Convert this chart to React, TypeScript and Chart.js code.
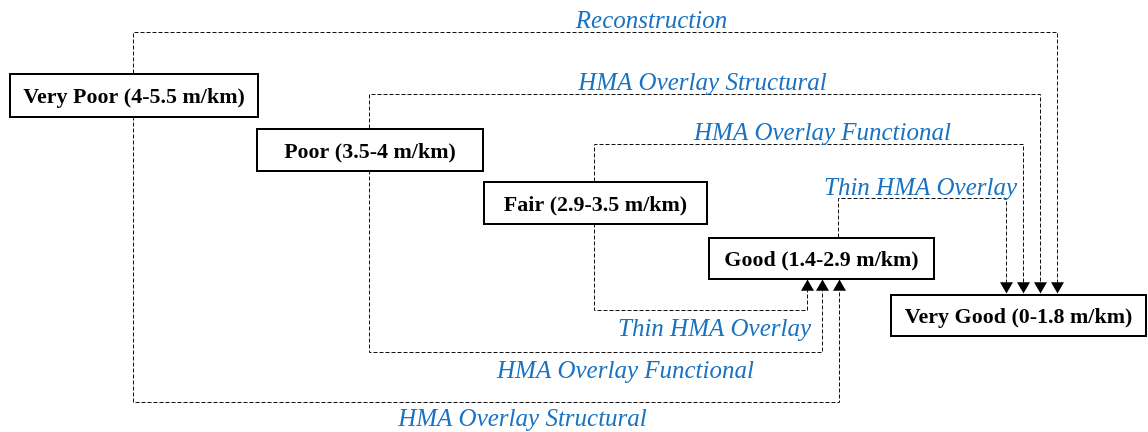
import React, { useEffect, useRef } from "react";
import { Chart, registerables } from "chart.js";

Chart.register(...registerables);

// Condition categories (boxes) and their extents in diagram units
const conditionLabels = [
  "Very Poor (4-5.5 m/km)",
  "Poor (3.5-4 m/km)",
  "Fair (2.9-3.5 m/km)",
  "Good (1.4-2.9 m/km)",
  "Very Good (0-1.8 m/km)",
];
const boxLeft = [9, 256, 483, 709, 890];
const boxRight = [257, 482, 706, 933, 1145];
const boxTop = [73, 128, 181, 237, 294];
const boxBottom = [116, 170, 223, 278, 335];

// Treatment labels
const upperLabels = ["Reconstruction", "HMA Overlay Structural", "HMA Overlay Functional", "Thin HMA Overlay"];
const upperLabelX = [651, 702, 822, 920];
const upperLabelY = [27, 89, 139, 194];
const lowerLabels = ["Thin HMA Overlay", "HMA Overlay Functional", "HMA Overlay Structural"];
const lowerLabelX = [714, 625, 522];
const lowerLabelY = [335, 377, 425];

// Treatment paths (dashed connectors)
const reconstructionPath = [[133, 73], [133, 32], [1057, 32], [1057, 282]];
const structuralUpperPath = [[369, 128], [369, 94], [1040, 94], [1040, 282]];
const functionalUpperPath = [[594, 181], [594, 144], [1023, 144], [1023, 282]];
const thinUpperPath = [[838, 237], [838, 198], [1006, 198], [1006, 282]];
const thinLowerPath = [[594, 223], [594, 310], [807, 310], [807, 290]];
const functionalLowerPath = [[369, 170], [369, 352], [822, 352], [822, 290]];
const structuralLowerPath = [[133, 116], [133, 402], [839, 402], [839, 290]];

// Arrow heads
const downArrowX = [1006, 1023, 1040, 1057];
const downArrowY = 285.5;
const upArrowX = [807, 822, 839];
const upArrowY = 286.5;

const paths = [
  reconstructionPath,
  structuralUpperPath,
  functionalUpperPath,
  thinUpperPath,
  thinLowerPath,
  functionalLowerPath,
  structuralLowerPath,
];

const LINE_COLOR = "#111111";
const BLUE = "#1a73c2";

const diagramPlugin = {
  id: "diagram",
  afterDatasetsDraw(chart: any) {
    const { ctx, scales } = chart;
    const sx = scales.x;
    const sy = scales.y;
    ctx.save();
    // boxes
    for (let i = 0; i < conditionLabels.length; i++) {
      const l = Math.round(sx.getPixelForValue(boxLeft[i]));
      const r = Math.round(sx.getPixelForValue(boxRight[i]));
      const t = Math.round(sy.getPixelForValue(boxTop[i]));
      const b = Math.round(sy.getPixelForValue(boxBottom[i]));
      ctx.fillStyle = "#ffffff";
      ctx.fillRect(l, t, r - l, b - t);
      ctx.lineWidth = 2;
      ctx.strokeStyle = "#000000";
      ctx.strokeRect(l, t, r - l, b - t);
      ctx.fillStyle = "#000000";
      ctx.font = 'bold 22px "Liberation Serif", "Times New Roman", serif';
      ctx.textAlign = "center";
      ctx.textBaseline = "alphabetic";
      ctx.fillText(conditionLabels[i], (l + r) / 2, (t + b) / 2 + 7.5);
    }
    // treatment labels
    ctx.fillStyle = BLUE;
    ctx.font = 'italic 25px "Liberation Serif", "Times New Roman", serif';
    ctx.textAlign = "center";
    ctx.textBaseline = "alphabetic";
    for (let i = 0; i < upperLabels.length; i++) {
      ctx.fillText(upperLabels[i], sx.getPixelForValue(upperLabelX[i]), sy.getPixelForValue(upperLabelY[i]));
    }
    for (let i = 0; i < lowerLabels.length; i++) {
      ctx.fillText(lowerLabels[i], sx.getPixelForValue(lowerLabelX[i]), sy.getPixelForValue(lowerLabelY[i]));
    }
    ctx.restore();
  },
};

export default function App() {
  const canvasRef = useRef<HTMLCanvasElement | null>(null);

  useEffect(() => {
    if (!canvasRef.current) return;
    const lineSets = paths.map((p) => ({
      type: "scatter" as const,
      data: p.map(([x, y]) => ({ x, y })),
      showLine: true,
      borderColor: LINE_COLOR,
      borderWidth: 1,
      borderDash: [4, 2],
      pointRadius: 0,
      fill: false,
      tension: 0,
    }));
    const arrowDown = {
      type: "scatter" as const,
      data: downArrowX.map((x) => ({ x, y: downArrowY })),
      showLine: false,
      pointStyle: "triangle",
      rotation: 180,
      pointRadius: 7.5,
      backgroundColor: "#000",
      borderColor: "#000",
      borderWidth: 0,
    };
    const arrowUp = {
      type: "scatter" as const,
      data: upArrowX.map((x) => ({ x, y: upArrowY })),
      showLine: false,
      pointStyle: "triangle",
      rotation: 0,
      pointRadius: 7.5,
      backgroundColor: "#000",
      borderColor: "#000",
      borderWidth: 0,
    };
    const chart = new Chart(canvasRef.current, {
      type: "scatter",
      data: { datasets: [...lineSets, arrowDown, arrowUp] as any },
      options: {
        animation: false,
        responsive: false,
        events: [],
        layout: { padding: 0, autoPadding: false },
        plugins: { legend: { display: false }, tooltip: { enabled: false } },
        scales: {
          x: { type: "linear", min: -0.5, max: 1147.5, display: false },
          y: { type: "linear", min: -0.5, max: 431.5, reverse: true, display: false },
        },
      },
      plugins: [diagramPlugin],
    });
    return () => chart.destroy();
  }, []);

  return (
    <div style={{ position: "fixed", left: 0, top: 0, width: 1148, height: 432, background: "#fff" }}>
      <canvas ref={canvasRef} width={1148} height={432} style={{ display: "block" }} />
    </div>
  );
}
